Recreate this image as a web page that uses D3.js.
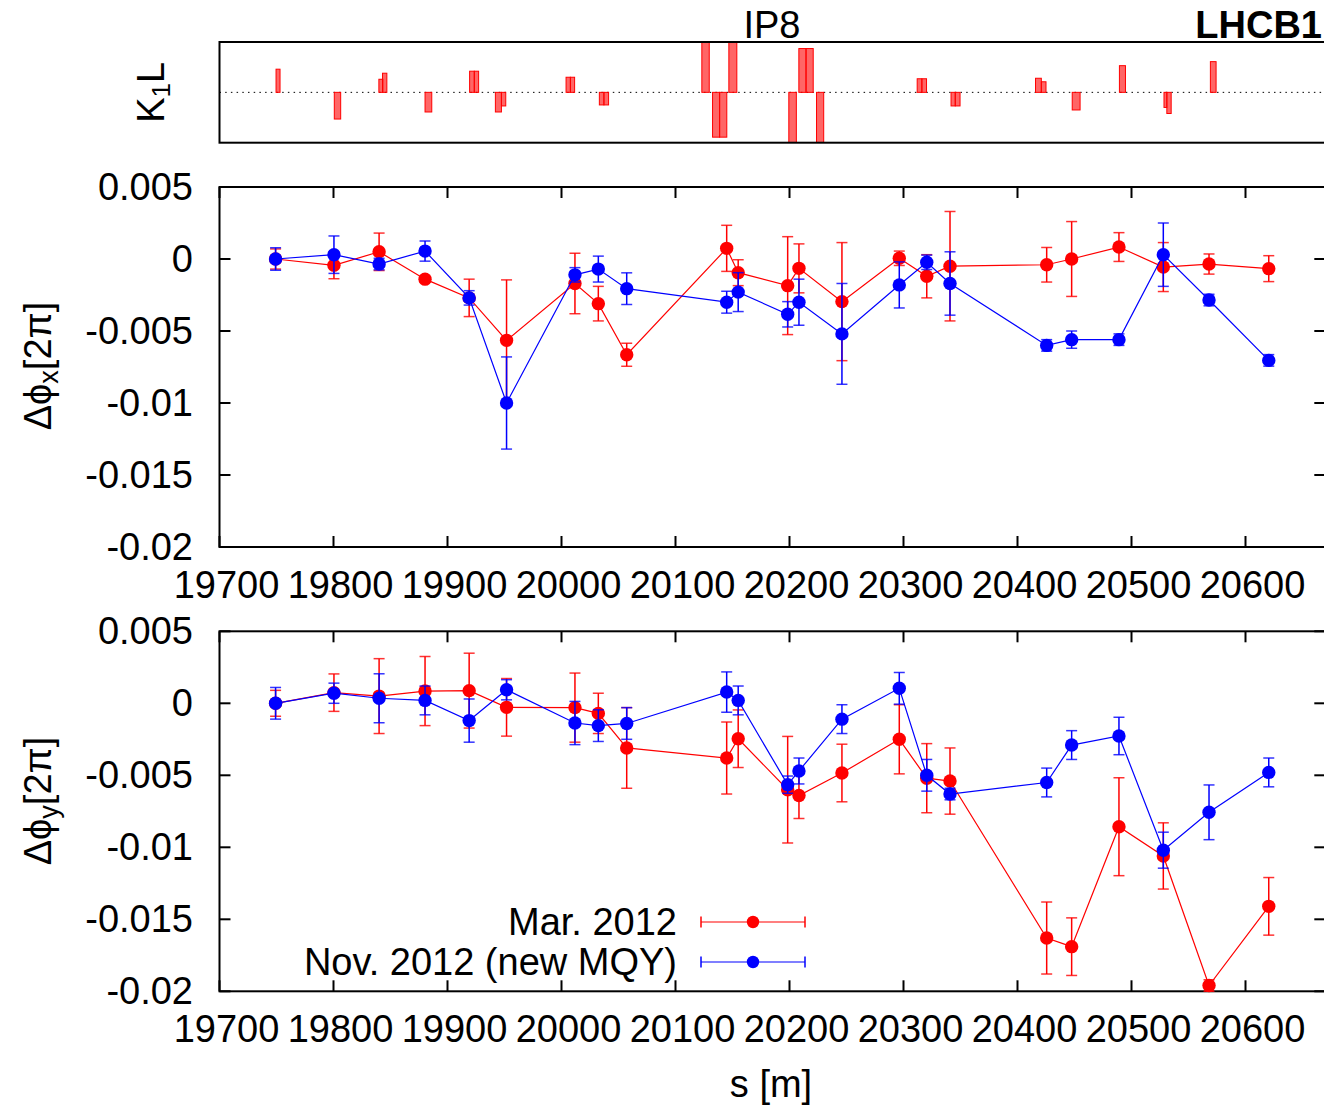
<!DOCTYPE html>
<html>
<head>
<meta charset="utf-8">
<script src="https://cdn.jsdelivr.net/npm/d3@7"></script>
<style>
  body { margin: 0; background: #fff; }
  svg text { font-family: "Liberation Sans", Arial, Helvetica, sans-serif; fill: #000; }
</style>
</head>
<body>
<div id="chart"></div>
<script>
// BPM positions along the ring [m]
var bpmS = [19749.2, 19800.4, 19840.0, 19880.3, 19919.0, 19951.8, 20011.8, 20032.3, 20057.2,
  20144.9, 20155.0, 20198.4, 20208.3, 20246.0, 20296.3, 20320.4, 20340.8, 20425.6, 20447.5,
  20489.0, 20527.9, 20568.0, 20620.4];

// horizontal phase advance difference [2pi]
var marX = [0, -0.00044, 0.0005, -0.0014, -0.0027, -0.00565, -0.0017, -0.0031, -0.00665,
  0.00074, -0.00095, -0.00185, -0.00065, -0.00296, 0.00005, -0.0012, -0.0005, -0.0004, 0.0,
  0.00083, -0.00056, -0.00035, -0.00067];
var marXErr = [0.0007, 0.00093, 0.0013, 0.0002, 0.0013, 0.0042, 0.0021, 0.0012, 0.0008,
  0.0016, 0.0009, 0.0034, 0.0017, 0.0041, 0.0005, 0.0015, 0.0038, 0.0012, 0.0026, 0.001,
  0.0017, 0.0007, 0.0009];
var novX = [0, 0.0003, -0.00035, 0.00055, -0.0027, -0.01, -0.0011, -0.0007, -0.00206,
  -0.003, -0.0023, -0.00384, -0.003, -0.0052, -0.0018, -0.00023, -0.0017, -0.006, -0.0056,
  -0.0056, 0.0003, -0.00285, -0.00704];
var novXErr = [0.00078, 0.0013, 0.0004, 0.0007, 0.0005, 0.0032, 0.0005, 0.0009, 0.0011,
  0.00076, 0.00135, 0.00088, 0.0016, 0.0035, 0.0016, 0.0005, 0.0022, 0.0004, 0.0006, 0.0004,
  0.0022, 0.0004, 0.0004];

// vertical phase advance difference [2pi]
var marY = [0, 0.00074, 0.0005, 0.00085, 0.00088, -0.00028, -0.0003, -0.0007, -0.0031,
  -0.0038, -0.00246, -0.006, -0.0064, -0.00484, -0.0025, -0.0052, -0.0054, -0.0163, -0.0169,
  -0.00857, -0.0106, -0.0196, -0.0141];
var marYErr = [0.0009, 0.0013, 0.0026, 0.0024, 0.0026, 0.002, 0.0024, 0.0014, 0.0028,
  0.0025, 0.002, 0.0037, 0.0016, 0.002, 0.0024, 0.0024, 0.0023, 0.0025, 0.002, 0.0034,
  0.0023, 0.0004, 0.002];
var novY = [0, 0.0007, 0.00035, 0.0002, -0.0012, 0.00094, -0.00137, -0.00155, -0.0014,
  0.00078, 0.0002, -0.00565, -0.0047, -0.0011, 0.00104, -0.005, -0.0063, -0.0055, -0.0029,
  -0.00227, -0.0102, -0.00757, -0.0048];
var novYErr = [0.0011, 0.0007, 0.0017, 0.001, 0.0015, 0.0007, 0.0015, 0.0011, 0.0011,
  0.0014, 0.001, 0.0006, 0.0009, 0.001, 0.0011, 0.0011, 0.0004, 0.001, 0.001, 0.0013,
  0.00125, 0.0019, 0.001];

// quadrupole slices: start, end [m] and K1L (arbitrary units, clipped to the box)
var quadStart = [19749.6, 19800.7, 19839.8, 19843.0, 19880.3, 19919.4, 19923.5, 19942.0,
  19947.3, 20004.0, 20007.8, 20033.2, 20037.2, 20123.1, 20132.5, 20138.7, 20146.8, 20199.4,
  20208.2, 20214.5, 20223.7, 20312.0, 20316.1, 20341.7, 20345.4, 20415.8, 20420.9, 20448.0,
  20489.4, 20528.5, 20531.0, 20569.2];
var quadEnd = [19753.1, 19806.3, 19843.3, 19846.8, 19886.2, 19923.5, 19927.3, 19947.3,
  19951.1, 20007.8, 20011.5, 20037.2, 20041.3, 20129.6, 20138.7, 20145.0, 20153.8, 20206.0,
  20214.5, 20220.8, 20230.0, 20316.1, 20320.2, 20345.4, 20349.6, 20420.9, 20425.0, 20454.9,
  20494.7, 20531.0, 20534.8, 20574.2];
var quadK1L = [0.46, -0.53, 0.26, 0.38, -0.39, 0.42, 0.42, -0.39, -0.27, 0.3, 0.3, -0.25,
  -0.25, 1.2, -0.89, -0.89, 1.2, -1.2, 0.87, 0.87, -1.2, 0.27, 0.27, -0.27, -0.27, 0.28,
  0.21, -0.35, 0.53, -0.3, -0.42, 0.61];

var xTicks = [19700, 19800, 19900, 20000, 20100, 20200, 20300, 20400, 20500, 20600];
var yTicks = [0.005, 0, -0.005, -0.01, -0.015, -0.02];
var yTickLabels = ["0.005", "0", "-0.005", "-0.01", "-0.015", "-0.02"];
var seriesNames = ["Mar. 2012", "Nov. 2012 (new MQY)"];

var RED = "#ff0000";
var BLUE = "#0000ff";
var FONT = 38;

var width = 1324, height = 1111;
var left = 219.5, right = 1325.3;

var svg = d3.select("#chart").append("svg")
  .attr("width", width)
  .attr("height", height);

var x = d3.scaleLinear().domain([19700, 20670]).range([left, right]);

// ---------- K1L panel ----------
var kTop = 42, kBottom = 142.7;
var k = d3.scaleLinear().domain([-1, 1]).range([kBottom, kTop]);

svg.append("clipPath").attr("id", "kclip")
  .append("rect")
  .attr("x", left).attr("y", kTop)
  .attr("width", right - left).attr("height", kBottom - kTop);

svg.append("line")
  .attr("x1", left).attr("x2", right)
  .attr("y1", k(0)).attr("y2", k(0))
  .attr("stroke", "#000")
  .attr("stroke-width", 1)
  .attr("stroke-dasharray", "1.5,4.2");

svg.append("g").attr("clip-path", "url(#kclip)")
  .selectAll("rect")
  .data(quadK1L)
  .enter().append("rect")
  .attr("x", function(d, i) { return x(quadStart[i]); })
  .attr("width", function(d, i) { return x(quadEnd[i]) - x(quadStart[i]); })
  .attr("y", function(d) { return Math.min(k(d), k(0)); })
  .attr("height", function(d) { return Math.abs(k(d) - k(0)); })
  .attr("fill", "rgba(255,0,0,0.6)")
  .attr("stroke", RED)
  .attr("stroke-width", 1);

svg.append("rect")
  .attr("x", left).attr("y", kTop)
  .attr("width", right - left).attr("height", kBottom - kTop)
  .attr("fill", "none").attr("stroke", "#000").attr("stroke-width", 2);

// K1L label
svg.append("text")
  .attr("transform", "translate(164," + k(0) + ") rotate(-90)")
  .attr("text-anchor", "middle")
  .attr("font-size", FONT)
  .html('K<tspan font-size="26" dy="6">1</tspan><tspan dy="-6">L</tspan>');

svg.append("text")
  .attr("x", 772).attr("y", 38)
  .attr("text-anchor", "middle")
  .attr("font-size", FONT)
  .text("IP8");

svg.append("text")
  .attr("x", 1322).attr("y", 38)
  .attr("text-anchor", "end")
  .attr("font-size", FONT)
  .attr("font-weight", "bold")
  .text("LHCB1");

// ---------- phase panels ----------
function drawPanel(top, bottom, series, label, labelY) {
  var y = d3.scaleLinear().domain([-0.02, 0.005]).range([bottom, top]);
  var g = svg.append("g");
  var tickLen = 11;

  // ticks
  xTicks.forEach(function(t) {
    g.append("line").attr("x1", x(t)).attr("x2", x(t))
      .attr("y1", bottom).attr("y2", bottom - tickLen)
      .attr("stroke", "#000").attr("stroke-width", 2);
    g.append("line").attr("x1", x(t)).attr("x2", x(t))
      .attr("y1", top).attr("y2", top + tickLen)
      .attr("stroke", "#000").attr("stroke-width", 2);
    g.append("text")
      .attr("x", x(t) + 7).attr("y", bottom + 51)
      .attr("text-anchor", "middle")
      .attr("font-size", FONT)
      .text(t);
  });
  yTicks.forEach(function(t, i) {
    g.append("line").attr("x1", left).attr("x2", left + tickLen)
      .attr("y1", y(t)).attr("y2", y(t))
      .attr("stroke", "#000").attr("stroke-width", 2);
    g.append("line").attr("x1", right).attr("x2", right - tickLen)
      .attr("y1", y(t)).attr("y2", y(t))
      .attr("stroke", "#000").attr("stroke-width", 2);
    g.append("text")
      .attr("x", 193).attr("y", y(t) + 13)
      .attr("text-anchor", "end")
      .attr("font-size", FONT)
      .text(yTickLabels[i]);
  });

  // border
  g.append("rect")
    .attr("x", left).attr("y", top)
    .attr("width", right - left).attr("height", bottom - top)
    .attr("fill", "none").attr("stroke", "#000").attr("stroke-width", 2);

  // data: line, error bars, then points, one series after the other
  series.forEach(function(s) {
    var sg = g.append("g");
    var line = d3.line()
      .x(function(d, i) { return x(bpmS[i]); })
      .y(function(d) { return y(d); });
    sg.append("path")
      .attr("d", line(s.values))
      .attr("fill", "none")
      .attr("stroke", s.color)
      .attr("stroke-width", 1.2);

    s.values.forEach(function(v, i) {
      var cx = x(bpmS[i]);
      var y1 = y(v + s.errors[i]), y2 = y(v - s.errors[i]);
      sg.append("line").attr("x1", cx).attr("x2", cx).attr("y1", y1).attr("y2", y2)
        .attr("stroke", s.color).attr("stroke-width", 1.5);
      [y1, y2].forEach(function(yy) {
        sg.append("line").attr("x1", cx - 5.5).attr("x2", cx + 5.5).attr("y1", yy).attr("y2", yy)
          .attr("stroke", s.color).attr("stroke-width", 1.5).attr("stroke-opacity", 0.8);
      });
    });

    sg.selectAll("circle")
      .data(s.values)
      .enter().append("circle")
      .attr("cx", function(d, i) { return x(bpmS[i]); })
      .attr("cy", function(d) { return y(d); })
      .attr("r", 6.7)
      .attr("fill", s.color);
  });

  // y label
  svg.append("text")
    .attr("transform", "translate(51," + labelY + ") rotate(-90)")
    .attr("text-anchor", "middle")
    .attr("font-size", FONT)
    .html('Δϕ<tspan font-size="27" dy="7">' + label + '</tspan><tspan dy="-7">[2π]</tspan>');
}

drawPanel(187, 547, [
  { values: marX, errors: marXErr, color: RED },
  { values: novX, errors: novXErr, color: BLUE }
], "x", 366);

drawPanel(631.3, 991.3, [
  { values: marY, errors: marYErr, color: RED },
  { values: novY, errors: novYErr, color: BLUE }
], "y", 801);

// x axis title
svg.append("text")
  .attr("x", 771).attr("y", 1097)
  .attr("text-anchor", "middle")
  .attr("font-size", FONT)
  .text("s [m]");

// legend
var legend = svg.append("g");
[RED, BLUE].forEach(function(c, i) {
  var ly = 922 + i * 40;
  legend.append("text")
    .attr("x", 677).attr("y", ly + 13)
    .attr("text-anchor", "end")
    .attr("font-size", FONT)
    .text(seriesNames[i]);
  legend.append("line").attr("x1", 701).attr("x2", 805).attr("y1", ly).attr("y2", ly)
    .attr("stroke", c).attr("stroke-width", 1.2);
  [701, 805].forEach(function(lx) {
    legend.append("line").attr("x1", lx).attr("x2", lx).attr("y1", ly - 5.5).attr("y2", ly + 5.5)
      .attr("stroke", c).attr("stroke-width", 1.5);
  });
  legend.append("circle").attr("cx", 753).attr("cy", ly).attr("r", 6.2).attr("fill", c);
});
</script>
</body>
</html>
